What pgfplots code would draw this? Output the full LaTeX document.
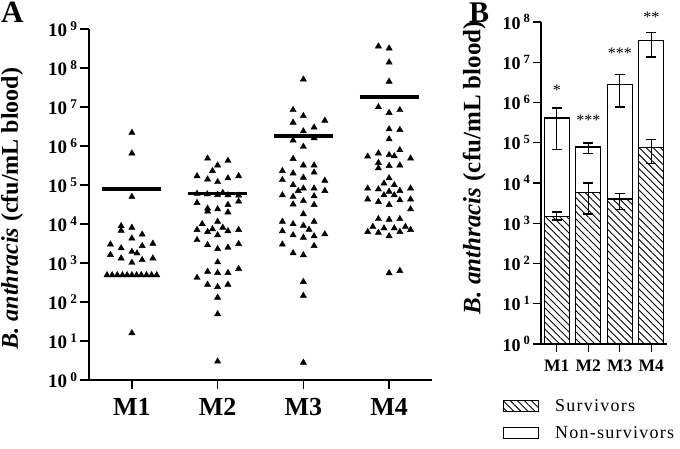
\documentclass[border=0pt]{standalone}
\usepackage{fontspec}
\setmainfont{Liberation Serif}
\usepackage{pgfplots}
\pgfplotsset{compat=1.18}
\usetikzlibrary{patterns.meta}

% survivors / non-survivors: bar height, upper and lower error
\pgfplotstableread{
x  y      ep     em
1  1.5e3  4.0e2  3.0e2
2  5.8e3  4.2e3  4.1e3
3  4.0e3  1.6e3  1.8e3
4  7.7e4  4.3e4  4.7e4
}\surv
\pgfplotstableread{
x  y      ep     em
1  4.1e5  3.2e5  3.43e5
2  7.8e4  2.0e4  2.4e4
3  2.8e6  2.1e6  2.03e6
4  3.5e7  2.0e7  2.15e7
}\nonsurv

\newcommand{\tl}[1]{\textbf{10\,\textsuperscript{#1}}}

\begin{document}
\begin{tikzpicture}
\path[use as bounding box] (0pt,0pt) rectangle (680pt,449pt);

\node[anchor=north west, inner sep=0pt] at (1pt,447pt) {\fontsize{31}{31}\selectfont\bfseries A};
\node[anchor=north west, inner sep=0pt] at (469pt,446pt) {\fontsize{30}{30}\selectfont\bfseries B};

\begin{axis}[
  ymode=log,
  scale only axis, ymin=1, ymax=1e9,
  xmin=0.5, xmax=4.5,
  axis x line*=bottom, axis y line*=left,
  axis line style={line width=1.3pt},
  tick style={line width=1.3pt, black},
  tick align=outside,
  minor y tick style={draw=none},
  xtick={1,2,3,4}, xticklabels={M1,M2,M3,M4},
  clip=false,
  at={(89pt,69pt)}, anchor=south west,
  width=343pt, height=351pt,
  major tick length=9pt,
  ytick={1,10,100,1e3,1e4,1e5,1e6,1e7,1e8,1e9},
  yticklabels={\tl{0},\tl{1},\tl{2},\tl{3},\tl{4},\tl{5},\tl{6},\tl{7},\tl{8},\tl{9}},
  y tick label style={font=\fontsize{19}{19}\selectfont, xshift=1pt},
  x tick label style={font=\fontsize{26}{26}\selectfont\bfseries, yshift=-6pt},
  ylabel={\textbf{\textit{B. anthracis} (cfu/mL blood)}},
  ylabel style={font=\fontsize{24}{24}\selectfont, at={(axis description cs:-0.2245,0.489)}, anchor=center},
]
\addplot[only marks, mark=triangle*, mark size=3.6pt, black] coordinates {
(1.000,2.2e6) (1.000,6.5e5) (1.000,5.0e4)
(0.875,8.9e3) (0.875,6.8e3) (1.000,8.1e3) (1.120,5.4e3) (1.000,4.3e3)
(0.750,3.0e3) (0.875,2.4e3) (1.120,2.75e3) (1.245,3.16e3)
(1.000,1.95e3) (1.060,1.78e3) (0.750,1.62e3) (0.875,1.32e3) (1.000,1.02e3) (1.120,1.2e3) (1.245,1.32e3)
(0.710,490) (0.770,490) (0.830,490) (0.890,490) (0.945,490) (1.000,490) (1.055,490) (1.110,490) (1.170,490) (1.230,490) (1.290,490)
(1.000,16)
};
\addplot[only marks, mark=triangle*, mark size=3.6pt, black] coordinates {
(1.883,4.8e5) (2.120,4.2e5) (2.000,3.2e5) (1.940,2.3e5) (1.760,1.7e5) (1.883,1.4e5) (2.000,1.2e5) (2.120,1.5e5) (2.245,1.7e5)
(1.760,6.0e4) (1.880,5.8e4) (2.000,5.6e4) (2.060,6.3e4) (2.120,5.5e4) (2.245,5.4e4)
(1.760,3.5e4) (1.883,2.5e4) (1.883,2.1e4) (2.000,2.4e4) (2.120,3.1e4) (2.120,2.0e4) (2.245,3.8e4)
(2.000,1.15e4) (1.820,1.0e4) (1.760,7.1e3) (1.883,6.3e3) (1.940,7.4e3) (2.060,8.1e3) (2.000,5.2e3) (2.120,6.6e3) (2.245,7.1e3)
(1.760,3.9e3) (1.883,2.9e3) (2.000,2.3e3) (2.120,2.5e3) (2.245,3.1e3)
(2.000,1.05e3) (1.883,600) (2.000,560) (2.120,560) (2.245,710) (1.760,420) (1.883,280) (2.000,245) (2.120,280)
(2.000,130) (2.000,49) (2.000,3.0)
};
\addplot[only marks, mark=triangle*, mark size=3.6pt, black] coordinates {
(3.000,5.1e7) (2.880,8.4e6) (3.000,5.9e6) (2.880,4.0e6) (3.250,4.5e6) (3.125,3.0e6)
(3.000,2.4e6) (2.880,1.4e6) (3.125,1.6e6) (3.000,9.6e5)
(2.880,4.7e5) (3.000,3.2e5) (3.125,3.2e5) (2.755,2.3e5) (2.880,2.0e5) (3.125,2.1e5)
(2.755,1.35e5) (3.000,1.55e5) (3.250,1.3e5) (2.880,1.0e5) (2.940,7.1e4) (3.000,8.2e4) (3.125,8.2e4) (3.250,7.1e4)
(2.755,5.5e4) (2.880,5.0e4) (3.125,5.2e4) (2.880,3.2e4) (3.000,3.9e4) (3.125,3.1e4) (3.000,1.8e4)
(2.755,1.15e4) (2.880,1.0e4) (3.000,9.1e3) (3.125,1.15e4) (2.755,6.6e3) (2.880,5.2e3) (3.000,4.5e3) (3.066,7.2e3) (3.125,4.9e3) (3.250,5.5e3)
(2.755,3.0e3) (3.125,2.75e3) (2.880,1.8e3) (3.000,1.6e3)
(3.000,330) (3.000,145) (3.000,2.8)
};
\addplot[only marks, mark=triangle*, mark size=3.6pt, black] coordinates {
(3.875,3.6e8) (4.000,3.2e8) (4.000,1.4e8) (4.000,4.5e7)
(3.875,1.0e7) (4.000,7.1e6) (4.125,8.4e6) (4.000,2.7e6) (4.125,2.6e6) (4.000,1.5e6)
(4.125,7.9e5) (3.875,6.5e5) (4.000,5.9e5) (4.060,5.5e5) (3.750,5.4e5) (4.250,4.8e5) (3.875,3.7e5) (3.875,2.7e5) (4.000,3.1e5) (4.125,3.2e5)
(4.000,1.5e5) (3.940,1.1e5) (4.060,1.0e5) (3.750,8.2e4) (3.875,7.8e4) (4.000,6.8e4) (4.125,7.1e4) (4.250,8.2e4) (3.940,5.5e4) (4.060,5.5e4)
(3.750,4.3e4) (3.875,3.7e4) (4.125,4.1e4) (4.250,4.3e4) (4.000,3.1e4) (4.250,2.4e4)
(3.875,1.35e4) (4.000,1.3e4) (4.125,1.35e4) (3.810,8.5e3) (3.940,7.8e3) (4.060,7.8e3) (4.190,8.5e3) (3.750,6.3e3) (3.875,6.0e3) (4.000,4.9e3) (4.125,6.3e3) (4.250,7.1e3)
(4.000,550) (4.125,630)
};
% means
\addplot[black, line width=3.6pt] coordinates {(0.655,7.8e4) (1.345,7.8e4)};
\addplot[black, line width=3.6pt] coordinates {(1.655,6.0e4) (2.345,6.0e4)};
\addplot[black, line width=3.6pt] coordinates {(2.655,1.8e6) (3.345,1.8e6)};
\addplot[black, line width=3.6pt] coordinates {(3.655,1.8e7) (4.345,1.8e7)};
\end{axis}

\begin{axis}[
  ymode=log,
  scale only axis, ymin=1, ymax=1e8,
  xmin=0.5, xmax=4.5,
  axis x line*=bottom, axis y line*=left,
  axis line style={line width=1.3pt},
  tick style={line width=1.3pt, black},
  tick align=outside,
  minor y tick style={draw=none},
  xtick={1,2,3,4}, xticklabels={M1,M2,M3,M4},
  clip=false,
  at={(541pt,105pt)}, anchor=south west,
  width=126pt, height=322pt,
  major tick length=8pt,
  ybar, bar width=25pt, bar shift=0pt,
  ytick={1,10,100,1e3,1e4,1e5,1e6,1e7,1e8},
  yticklabels={\tl{0},\tl{1},\tl{2},\tl{3},\tl{4},\tl{5},\tl{6},\tl{7},\tl{8}},
  y tick label style={font=\fontsize{18}{18}\selectfont, xshift=1pt},
  x tick label style={font=\fontsize{17.5}{17.5}\selectfont\bfseries, yshift=-4pt},
  ylabel={\textbf{\textit{B. anthracis} (cfu/mL blood)}},
  ylabel style={font=\fontsize{25}{25}\selectfont, at={(axis description cs:-0.53,0.548)}, anchor=center},
  error bars/y dir=both, error bars/y explicit,
  error bars/error bar style={line width=1.2pt, black},
  error bars/error mark options={rotate=90, mark size=5pt, line width=1.2pt, black},
  legend style={draw=none, fill=none, inner sep=0pt,
    at={(axis description cs:-0.302,-0.165)}, anchor=north west,
    font=\fontsize{18}{18}\selectfont\addfontfeatures{LetterSpace=7},
    row sep=9.5pt, cells={anchor=west},
    /tikz/every odd column/.style={column sep=14pt}},
  reverse legend,
]
\addplot[draw=black, fill=white, line width=1.2pt,
  legend image code/.code={\draw[black, fill=white, line width=1pt] (0pt,-5.5pt) rectangle (35pt,5.5pt);}]
  table[x=x, y=y, y error plus=ep, y error minus=em] {\nonsurv};
\addplot[draw=black, line width=1.2pt,
  pattern={Lines[angle=-45, distance=5pt, line width=0.9pt]},
  legend image code/.code={\draw[black, line width=1pt, pattern={Lines[angle=-45, distance=5pt, line width=0.9pt]}] (0pt,-5.5pt) rectangle (35pt,5.5pt);}]
  table[x=x, y=y, y error plus=ep, y error minus=em] {\surv};
\legend{Non-survivors, Survivors}
\node[font=\fontsize{16}{16}\selectfont] at (axis cs:1,2.0e6) {*};
\node[font=\fontsize{16}{16}\selectfont] at (axis cs:2,3.6e5) {***};
\node[font=\fontsize{16}{16}\selectfont] at (axis cs:3,1.65e7) {***};
\node[font=\fontsize{16}{16}\selectfont] at (axis cs:4,1.3e8) {**};
\end{axis}
\end{tikzpicture}
\end{document}
